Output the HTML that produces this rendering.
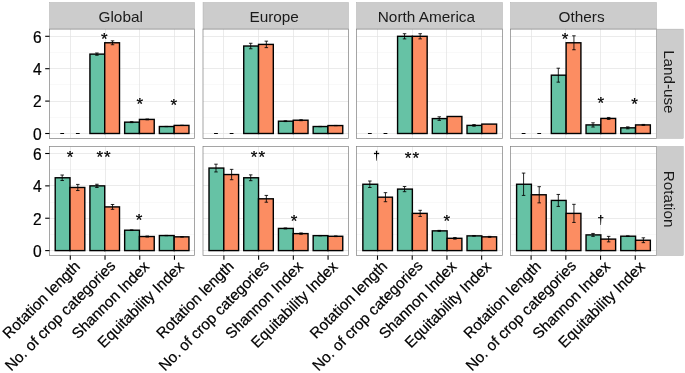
<!DOCTYPE html>
<html><head><meta charset="utf-8"><title>chart</title>
<style>html,body{margin:0;padding:0;background:#fff}svg{display:block;will-change:transform}text{font-family:"Liberation Sans",sans-serif}</style>
</head><body>
<svg width="685" height="373" viewBox="0 0 685 373" font-family="Liberation Sans, sans-serif">
<rect width="685" height="373" fill="#fff"/>
<rect x="49.5" y="2.5" width="145" height="26.7" fill="#cccccc" stroke="#a6a6a6" stroke-width="0.4"/>
<text x="120.7" y="21.6" font-size="15.35" text-anchor="middle" fill="#1a1a1a">Global</text>
<rect x="49.5" y="29.1" width="145" height="109.3" fill="#fff"/>
<line x1="49.5" x2="194.5" y1="117.5" y2="117.5" stroke="#f2f2f2" stroke-width="0.5"/>
<line x1="49.5" x2="194.5" y1="84.5" y2="84.5" stroke="#f2f2f2" stroke-width="0.5"/>
<line x1="49.5" x2="194.5" y1="52.5" y2="52.5" stroke="#f2f2f2" stroke-width="0.5"/>
<line x1="49.5" x2="194.5" y1="133.5" y2="133.5" stroke="#e3e3e3" stroke-width="0.7"/>
<line x1="49.5" x2="194.5" y1="101.5" y2="101.5" stroke="#e3e3e3" stroke-width="0.7"/>
<line x1="49.5" x2="194.5" y1="68.5" y2="68.5" stroke="#e3e3e3" stroke-width="0.7"/>
<line x1="49.5" x2="194.5" y1="36.5" y2="36.5" stroke="#e3e3e3" stroke-width="0.7"/>
<line x1="70.5" x2="70.5" y1="29.1" y2="138.4" stroke="#e3e3e3" stroke-width="0.7"/>
<line x1="105.5" x2="105.5" y1="29.1" y2="138.4" stroke="#e3e3e3" stroke-width="0.7"/>
<line x1="139.5" x2="139.5" y1="29.1" y2="138.4" stroke="#e3e3e3" stroke-width="0.7"/>
<line x1="174.5" x2="174.5" y1="29.1" y2="138.4" stroke="#e3e3e3" stroke-width="0.7"/>
<line x1="60.29" x2="64.09" y1="133.5" y2="133.5" stroke="#000" stroke-width="1"/>
<line x1="75.91" x2="79.71" y1="133.5" y2="133.5" stroke="#000" stroke-width="1"/>
<rect x="89.93" y="54.12" width="14.79" height="79.38" fill="#66C2A5" stroke="#000" stroke-width="1.4"/>
<rect x="104.72" y="42.78" width="14.79" height="90.72" fill="#FC8D62" stroke="#000" stroke-width="1.4"/>
<path d="M95.16 52.99H98.66M95.16 55.25H98.66M96.91 52.99V55.25" stroke="#000" stroke-width="0.85" fill="none"/>
<path d="M110.78 40.84H114.28M110.78 44.72H114.28M112.53 40.84V44.72" stroke="#000" stroke-width="0.85" fill="none"/>
<rect x="124.65" y="122.16" width="14.79" height="11.34" fill="#66C2A5" stroke="#000" stroke-width="1.4"/>
<rect x="139.44" y="119.41" width="14.79" height="14.09" fill="#FC8D62" stroke="#000" stroke-width="1.4"/>
<path d="M129.88 121.67H133.38M129.88 122.65H133.38M131.63 121.67V122.65" stroke="#000" stroke-width="0.85" fill="none"/>
<path d="M145.5 119H149M145.5 119.81H149M147.25 119V119.81" stroke="#000" stroke-width="0.85" fill="none"/>
<rect x="159.37" y="126.53" width="14.79" height="6.97" fill="#66C2A5" stroke="#000" stroke-width="1.4"/>
<rect x="174.16" y="125.4" width="14.79" height="8.1" fill="#FC8D62" stroke="#000" stroke-width="1.4"/>
<path d="M164.6 126.4H168.1M164.6 126.66H168.1M166.35 126.4V126.66" stroke="#000" stroke-width="0.85" fill="none"/>
<path d="M180.22 125.27H183.72M180.22 125.53H183.72M181.97 125.27V125.53" stroke="#000" stroke-width="0.85" fill="none"/>
<rect x="49.5" y="29.1" width="145" height="109.3" fill="none" stroke="#7f7f7f" stroke-width="0.7"/>
<rect x="49.5" y="146.5" width="145" height="109" fill="#fff"/>
<line x1="49.5" x2="194.5" y1="234.5" y2="234.5" stroke="#f2f2f2" stroke-width="0.5"/>
<line x1="49.5" x2="194.5" y1="202.5" y2="202.5" stroke="#f2f2f2" stroke-width="0.5"/>
<line x1="49.5" x2="194.5" y1="169.5" y2="169.5" stroke="#f2f2f2" stroke-width="0.5"/>
<line x1="49.5" x2="194.5" y1="250.5" y2="250.5" stroke="#e3e3e3" stroke-width="0.7"/>
<line x1="49.5" x2="194.5" y1="218.5" y2="218.5" stroke="#e3e3e3" stroke-width="0.7"/>
<line x1="49.5" x2="194.5" y1="185.5" y2="185.5" stroke="#e3e3e3" stroke-width="0.7"/>
<line x1="49.5" x2="194.5" y1="153.5" y2="153.5" stroke="#e3e3e3" stroke-width="0.7"/>
<line x1="70.5" x2="70.5" y1="146.5" y2="255.5" stroke="#e3e3e3" stroke-width="0.7"/>
<line x1="105.5" x2="105.5" y1="146.5" y2="255.5" stroke="#e3e3e3" stroke-width="0.7"/>
<line x1="139.5" x2="139.5" y1="146.5" y2="255.5" stroke="#e3e3e3" stroke-width="0.7"/>
<line x1="174.5" x2="174.5" y1="146.5" y2="255.5" stroke="#e3e3e3" stroke-width="0.7"/>
<rect x="55.21" y="177.77" width="14.79" height="72.83" fill="#66C2A5" stroke="#000" stroke-width="1.4"/>
<rect x="70" y="187.48" width="14.79" height="63.12" fill="#FC8D62" stroke="#000" stroke-width="1.4"/>
<path d="M60.44 175.02H63.94M60.44 180.53H63.94M62.19 175.02V180.53" stroke="#000" stroke-width="0.85" fill="none"/>
<path d="M76.06 184.41H79.56M76.06 190.56H79.56M77.81 184.41V190.56" stroke="#000" stroke-width="0.85" fill="none"/>
<rect x="89.93" y="185.87" width="14.79" height="64.73" fill="#66C2A5" stroke="#000" stroke-width="1.4"/>
<rect x="104.72" y="206.91" width="14.79" height="43.7" fill="#FC8D62" stroke="#000" stroke-width="1.4"/>
<path d="M95.16 184.25H98.66M95.16 187.48H98.66M96.91 184.25V187.48" stroke="#000" stroke-width="0.85" fill="none"/>
<path d="M110.78 204.48H114.28M110.78 209.33H114.28M112.53 204.48V209.33" stroke="#000" stroke-width="0.85" fill="none"/>
<rect x="124.65" y="230.21" width="14.79" height="20.39" fill="#66C2A5" stroke="#000" stroke-width="1.4"/>
<rect x="139.44" y="236.52" width="14.79" height="14.08" fill="#FC8D62" stroke="#000" stroke-width="1.4"/>
<path d="M129.88 229.89H133.38M129.88 230.53H133.38M131.63 229.89V230.53" stroke="#000" stroke-width="0.85" fill="none"/>
<path d="M145.5 236.03H149M145.5 237.01H149M147.25 236.03V237.01" stroke="#000" stroke-width="0.85" fill="none"/>
<rect x="159.37" y="235.55" width="14.79" height="15.05" fill="#66C2A5" stroke="#000" stroke-width="1.4"/>
<rect x="174.16" y="236.84" width="14.79" height="13.76" fill="#FC8D62" stroke="#000" stroke-width="1.4"/>
<path d="M164.6 235.39H168.1M164.6 235.71H168.1M166.35 235.39V235.71" stroke="#000" stroke-width="0.85" fill="none"/>
<path d="M180.22 236.6H183.72M180.22 237.09H183.72M181.97 236.6V237.09" stroke="#000" stroke-width="0.85" fill="none"/>
<rect x="49.5" y="146.5" width="145" height="109" fill="none" stroke="#7f7f7f" stroke-width="0.7"/>
<line x1="70.3" x2="70.3" y1="255.5" y2="259.8" stroke="#000" stroke-width="1.1"/>
<text transform="translate(81.08,267.22) rotate(-45)" font-size="15.2" text-anchor="end" fill="#000" stroke="#000" stroke-width="0.22">Rotation length</text>
<line x1="105.02" x2="105.02" y1="255.5" y2="259.8" stroke="#000" stroke-width="1.1"/>
<text transform="translate(116.37,266.65) rotate(-45)" font-size="15.2" text-anchor="end" fill="#000" stroke="#000" stroke-width="0.22">No. of crop categories</text>
<line x1="139.74" x2="139.74" y1="255.5" y2="259.8" stroke="#000" stroke-width="1.1"/>
<text transform="translate(150.24,267.5) rotate(-45)" font-size="15.2" text-anchor="end" fill="#000" stroke="#000" stroke-width="0.22">Shannon Index</text>
<line x1="174.46" x2="174.46" y1="255.5" y2="259.8" stroke="#000" stroke-width="1.1"/>
<text transform="translate(184.96,267.5) rotate(-45)" font-size="15.2" text-anchor="end" fill="#000" stroke="#000" stroke-width="0.22">Equitability Index</text>
<rect x="203" y="2.5" width="145.5" height="26.7" fill="#cccccc" stroke="#a6a6a6" stroke-width="0.4"/>
<text x="274.15" y="21.6" font-size="15.35" text-anchor="middle" fill="#1a1a1a">Europe</text>
<rect x="203" y="29.1" width="145.5" height="109.3" fill="#fff"/>
<line x1="203" x2="348.5" y1="117.5" y2="117.5" stroke="#f2f2f2" stroke-width="0.5"/>
<line x1="203" x2="348.5" y1="84.5" y2="84.5" stroke="#f2f2f2" stroke-width="0.5"/>
<line x1="203" x2="348.5" y1="52.5" y2="52.5" stroke="#f2f2f2" stroke-width="0.5"/>
<line x1="203" x2="348.5" y1="133.5" y2="133.5" stroke="#e3e3e3" stroke-width="0.7"/>
<line x1="203" x2="348.5" y1="101.5" y2="101.5" stroke="#e3e3e3" stroke-width="0.7"/>
<line x1="203" x2="348.5" y1="68.5" y2="68.5" stroke="#e3e3e3" stroke-width="0.7"/>
<line x1="203" x2="348.5" y1="36.5" y2="36.5" stroke="#e3e3e3" stroke-width="0.7"/>
<line x1="223.5" x2="223.5" y1="29.1" y2="138.4" stroke="#e3e3e3" stroke-width="0.7"/>
<line x1="258.5" x2="258.5" y1="29.1" y2="138.4" stroke="#e3e3e3" stroke-width="0.7"/>
<line x1="293.5" x2="293.5" y1="29.1" y2="138.4" stroke="#e3e3e3" stroke-width="0.7"/>
<line x1="328.5" x2="328.5" y1="29.1" y2="138.4" stroke="#e3e3e3" stroke-width="0.7"/>
<line x1="214.09" x2="217.89" y1="133.5" y2="133.5" stroke="#000" stroke-width="1"/>
<line x1="229.71" x2="233.51" y1="133.5" y2="133.5" stroke="#000" stroke-width="1"/>
<rect x="243.73" y="46.02" width="14.79" height="87.48" fill="#66C2A5" stroke="#000" stroke-width="1.4"/>
<rect x="258.52" y="44.4" width="14.79" height="89.1" fill="#FC8D62" stroke="#000" stroke-width="1.4"/>
<path d="M248.96 43.27H252.46M248.96 48.77H252.46M250.71 43.27V48.77" stroke="#000" stroke-width="0.85" fill="none"/>
<path d="M264.58 41.16H268.08M264.58 47.64H268.08M266.33 41.16V47.64" stroke="#000" stroke-width="0.85" fill="none"/>
<rect x="278.45" y="121.19" width="14.79" height="12.31" fill="#66C2A5" stroke="#000" stroke-width="1.4"/>
<rect x="293.24" y="120.22" width="14.79" height="13.28" fill="#FC8D62" stroke="#000" stroke-width="1.4"/>
<path d="M283.68 120.78H287.18M283.68 121.59H287.18M285.43 120.78V121.59" stroke="#000" stroke-width="0.85" fill="none"/>
<path d="M299.3 119.73H302.8M299.3 120.7H302.8M301.05 119.73V120.7" stroke="#000" stroke-width="0.85" fill="none"/>
<rect x="313.17" y="126.53" width="14.79" height="6.97" fill="#66C2A5" stroke="#000" stroke-width="1.4"/>
<rect x="327.96" y="125.56" width="14.79" height="7.94" fill="#FC8D62" stroke="#000" stroke-width="1.4"/>
<path d="M318.4 126.4H321.9M318.4 126.66H321.9M320.15 126.4V126.66" stroke="#000" stroke-width="0.85" fill="none"/>
<path d="M334.02 125.43H337.52M334.02 125.69H337.52M335.77 125.43V125.69" stroke="#000" stroke-width="0.85" fill="none"/>
<rect x="203" y="29.1" width="145.5" height="109.3" fill="none" stroke="#7f7f7f" stroke-width="0.7"/>
<rect x="203" y="146.5" width="145.5" height="109" fill="#fff"/>
<line x1="203" x2="348.5" y1="234.5" y2="234.5" stroke="#f2f2f2" stroke-width="0.5"/>
<line x1="203" x2="348.5" y1="202.5" y2="202.5" stroke="#f2f2f2" stroke-width="0.5"/>
<line x1="203" x2="348.5" y1="169.5" y2="169.5" stroke="#f2f2f2" stroke-width="0.5"/>
<line x1="203" x2="348.5" y1="250.5" y2="250.5" stroke="#e3e3e3" stroke-width="0.7"/>
<line x1="203" x2="348.5" y1="218.5" y2="218.5" stroke="#e3e3e3" stroke-width="0.7"/>
<line x1="203" x2="348.5" y1="185.5" y2="185.5" stroke="#e3e3e3" stroke-width="0.7"/>
<line x1="203" x2="348.5" y1="153.5" y2="153.5" stroke="#e3e3e3" stroke-width="0.7"/>
<line x1="223.5" x2="223.5" y1="146.5" y2="255.5" stroke="#e3e3e3" stroke-width="0.7"/>
<line x1="258.5" x2="258.5" y1="146.5" y2="255.5" stroke="#e3e3e3" stroke-width="0.7"/>
<line x1="293.5" x2="293.5" y1="146.5" y2="255.5" stroke="#e3e3e3" stroke-width="0.7"/>
<line x1="328.5" x2="328.5" y1="146.5" y2="255.5" stroke="#e3e3e3" stroke-width="0.7"/>
<rect x="209.01" y="168.06" width="14.79" height="82.53" fill="#66C2A5" stroke="#000" stroke-width="1.4"/>
<rect x="223.8" y="174.54" width="14.79" height="76.06" fill="#FC8D62" stroke="#000" stroke-width="1.4"/>
<path d="M214.24 164.18H217.74M214.24 171.95H217.74M215.99 164.18V171.95" stroke="#000" stroke-width="0.85" fill="none"/>
<path d="M229.86 169.36H233.36M229.86 179.72H233.36M231.61 169.36V179.72" stroke="#000" stroke-width="0.85" fill="none"/>
<rect x="243.73" y="177.77" width="14.79" height="72.83" fill="#66C2A5" stroke="#000" stroke-width="1.4"/>
<rect x="258.52" y="198.81" width="14.79" height="51.79" fill="#FC8D62" stroke="#000" stroke-width="1.4"/>
<path d="M248.96 174.86H252.46M248.96 180.69H252.46M250.71 174.86V180.69" stroke="#000" stroke-width="0.85" fill="none"/>
<path d="M264.58 195.41H268.08M264.58 202.21H268.08M266.33 195.41V202.21" stroke="#000" stroke-width="0.85" fill="none"/>
<rect x="278.45" y="228.43" width="14.79" height="22.17" fill="#66C2A5" stroke="#000" stroke-width="1.4"/>
<rect x="293.24" y="233.61" width="14.79" height="16.99" fill="#FC8D62" stroke="#000" stroke-width="1.4"/>
<path d="M283.68 227.94H287.18M283.68 228.91H287.18M285.43 227.94V228.91" stroke="#000" stroke-width="0.85" fill="none"/>
<path d="M299.3 232.96H302.8M299.3 234.25H302.8M301.05 232.96V234.25" stroke="#000" stroke-width="0.85" fill="none"/>
<rect x="313.17" y="235.63" width="14.79" height="14.97" fill="#66C2A5" stroke="#000" stroke-width="1.4"/>
<rect x="327.96" y="236.28" width="14.79" height="14.32" fill="#FC8D62" stroke="#000" stroke-width="1.4"/>
<path d="M318.4 235.47H321.9M318.4 235.79H321.9M320.15 235.47V235.79" stroke="#000" stroke-width="0.85" fill="none"/>
<path d="M334.02 235.95H337.52M334.02 236.6H337.52M335.77 235.95V236.6" stroke="#000" stroke-width="0.85" fill="none"/>
<rect x="203" y="146.5" width="145.5" height="109" fill="none" stroke="#7f7f7f" stroke-width="0.7"/>
<line x1="223.9" x2="223.9" y1="255.5" y2="259.8" stroke="#000" stroke-width="1.1"/>
<text transform="translate(234.68,267.22) rotate(-45)" font-size="15.2" text-anchor="end" fill="#000" stroke="#000" stroke-width="0.22">Rotation length</text>
<line x1="258.62" x2="258.62" y1="255.5" y2="259.8" stroke="#000" stroke-width="1.1"/>
<text transform="translate(269.97,266.65) rotate(-45)" font-size="15.2" text-anchor="end" fill="#000" stroke="#000" stroke-width="0.22">No. of crop categories</text>
<line x1="293.34" x2="293.34" y1="255.5" y2="259.8" stroke="#000" stroke-width="1.1"/>
<text transform="translate(303.84,267.5) rotate(-45)" font-size="15.2" text-anchor="end" fill="#000" stroke="#000" stroke-width="0.22">Shannon Index</text>
<line x1="328.06" x2="328.06" y1="255.5" y2="259.8" stroke="#000" stroke-width="1.1"/>
<text transform="translate(338.56,267.5) rotate(-45)" font-size="15.2" text-anchor="end" fill="#000" stroke="#000" stroke-width="0.22">Equitability Index</text>
<rect x="356.5" y="2.5" width="146" height="26.7" fill="#cccccc" stroke="#a6a6a6" stroke-width="0.4"/>
<text x="426.4" y="21.6" font-size="15.35" text-anchor="middle" fill="#1a1a1a">North America</text>
<rect x="356.5" y="29.1" width="146" height="109.3" fill="#fff"/>
<line x1="356.5" x2="502.5" y1="117.5" y2="117.5" stroke="#f2f2f2" stroke-width="0.5"/>
<line x1="356.5" x2="502.5" y1="84.5" y2="84.5" stroke="#f2f2f2" stroke-width="0.5"/>
<line x1="356.5" x2="502.5" y1="52.5" y2="52.5" stroke="#f2f2f2" stroke-width="0.5"/>
<line x1="356.5" x2="502.5" y1="133.5" y2="133.5" stroke="#e3e3e3" stroke-width="0.7"/>
<line x1="356.5" x2="502.5" y1="101.5" y2="101.5" stroke="#e3e3e3" stroke-width="0.7"/>
<line x1="356.5" x2="502.5" y1="68.5" y2="68.5" stroke="#e3e3e3" stroke-width="0.7"/>
<line x1="356.5" x2="502.5" y1="36.5" y2="36.5" stroke="#e3e3e3" stroke-width="0.7"/>
<line x1="377.5" x2="377.5" y1="29.1" y2="138.4" stroke="#e3e3e3" stroke-width="0.7"/>
<line x1="412.5" x2="412.5" y1="29.1" y2="138.4" stroke="#e3e3e3" stroke-width="0.7"/>
<line x1="446.5" x2="446.5" y1="29.1" y2="138.4" stroke="#e3e3e3" stroke-width="0.7"/>
<line x1="481.5" x2="481.5" y1="29.1" y2="138.4" stroke="#e3e3e3" stroke-width="0.7"/>
<line x1="367.94" x2="371.74" y1="133.5" y2="133.5" stroke="#000" stroke-width="1"/>
<line x1="383.56" x2="387.36" y1="133.5" y2="133.5" stroke="#000" stroke-width="1"/>
<rect x="397.58" y="36.3" width="14.79" height="97.2" fill="#66C2A5" stroke="#000" stroke-width="1.4"/>
<rect x="412.37" y="36.3" width="14.79" height="97.2" fill="#FC8D62" stroke="#000" stroke-width="1.4"/>
<path d="M402.81 33.71H406.31M402.81 38.89H406.31M404.56 33.71V38.89" stroke="#000" stroke-width="0.85" fill="none"/>
<path d="M418.43 33.71H421.93M418.43 38.89H421.93M420.18 33.71V38.89" stroke="#000" stroke-width="0.85" fill="none"/>
<rect x="432.3" y="118.6" width="14.79" height="14.9" fill="#66C2A5" stroke="#000" stroke-width="1.4"/>
<rect x="447.09" y="116.49" width="14.79" height="17.01" fill="#FC8D62" stroke="#000" stroke-width="1.4"/>
<path d="M437.53 116.81H441.03M437.53 120.38H441.03M439.28 116.81V120.38" stroke="#000" stroke-width="0.85" fill="none"/>
<rect x="467.02" y="125.4" width="14.79" height="8.1" fill="#66C2A5" stroke="#000" stroke-width="1.4"/>
<rect x="481.81" y="124.1" width="14.79" height="9.4" fill="#FC8D62" stroke="#000" stroke-width="1.4"/>
<path d="M472.25 124.59H475.75M472.25 126.21H475.75M474 124.59V126.21" stroke="#000" stroke-width="0.85" fill="none"/>
<rect x="356.5" y="29.1" width="146" height="109.3" fill="none" stroke="#7f7f7f" stroke-width="0.7"/>
<rect x="356.5" y="146.5" width="146" height="109" fill="#fff"/>
<line x1="356.5" x2="502.5" y1="234.5" y2="234.5" stroke="#f2f2f2" stroke-width="0.5"/>
<line x1="356.5" x2="502.5" y1="202.5" y2="202.5" stroke="#f2f2f2" stroke-width="0.5"/>
<line x1="356.5" x2="502.5" y1="169.5" y2="169.5" stroke="#f2f2f2" stroke-width="0.5"/>
<line x1="356.5" x2="502.5" y1="250.5" y2="250.5" stroke="#e3e3e3" stroke-width="0.7"/>
<line x1="356.5" x2="502.5" y1="218.5" y2="218.5" stroke="#e3e3e3" stroke-width="0.7"/>
<line x1="356.5" x2="502.5" y1="185.5" y2="185.5" stroke="#e3e3e3" stroke-width="0.7"/>
<line x1="356.5" x2="502.5" y1="153.5" y2="153.5" stroke="#e3e3e3" stroke-width="0.7"/>
<line x1="377.5" x2="377.5" y1="146.5" y2="255.5" stroke="#e3e3e3" stroke-width="0.7"/>
<line x1="412.5" x2="412.5" y1="146.5" y2="255.5" stroke="#e3e3e3" stroke-width="0.7"/>
<line x1="446.5" x2="446.5" y1="146.5" y2="255.5" stroke="#e3e3e3" stroke-width="0.7"/>
<line x1="481.5" x2="481.5" y1="146.5" y2="255.5" stroke="#e3e3e3" stroke-width="0.7"/>
<rect x="362.86" y="184.25" width="14.79" height="66.35" fill="#66C2A5" stroke="#000" stroke-width="1.4"/>
<rect x="377.65" y="197.19" width="14.79" height="53.41" fill="#FC8D62" stroke="#000" stroke-width="1.4"/>
<path d="M368.09 181.01H371.59M368.09 187.49H371.59M369.84 181.01V187.49" stroke="#000" stroke-width="0.85" fill="none"/>
<path d="M383.71 192.66H387.21M383.71 201.73H387.21M385.46 192.66V201.73" stroke="#000" stroke-width="0.85" fill="none"/>
<rect x="397.58" y="189.1" width="14.79" height="61.5" fill="#66C2A5" stroke="#000" stroke-width="1.4"/>
<rect x="412.37" y="213.38" width="14.79" height="37.22" fill="#FC8D62" stroke="#000" stroke-width="1.4"/>
<path d="M402.81 186.51H406.31M402.81 191.69H406.31M404.56 186.51V191.69" stroke="#000" stroke-width="0.85" fill="none"/>
<path d="M418.43 210.3H421.93M418.43 216.45H421.93M420.18 210.3V216.45" stroke="#000" stroke-width="0.85" fill="none"/>
<rect x="432.3" y="230.86" width="14.79" height="19.74" fill="#66C2A5" stroke="#000" stroke-width="1.4"/>
<rect x="447.09" y="238.3" width="14.79" height="12.3" fill="#FC8D62" stroke="#000" stroke-width="1.4"/>
<path d="M437.53 230.37H441.03M437.53 231.34H441.03M439.28 230.37V231.34" stroke="#000" stroke-width="0.85" fill="none"/>
<path d="M453.15 237.49H456.65M453.15 239.11H456.65M454.9 237.49V239.11" stroke="#000" stroke-width="0.85" fill="none"/>
<rect x="467.02" y="235.87" width="14.79" height="14.73" fill="#66C2A5" stroke="#000" stroke-width="1.4"/>
<rect x="481.81" y="236.84" width="14.79" height="13.76" fill="#FC8D62" stroke="#000" stroke-width="1.4"/>
<path d="M472.25 235.63H475.75M472.25 236.12H475.75M474 235.63V236.12" stroke="#000" stroke-width="0.85" fill="none"/>
<path d="M487.87 236.36H491.37M487.87 237.33H491.37M489.62 236.36V237.33" stroke="#000" stroke-width="0.85" fill="none"/>
<rect x="356.5" y="146.5" width="146" height="109" fill="none" stroke="#7f7f7f" stroke-width="0.7"/>
<line x1="377.5" x2="377.5" y1="255.5" y2="259.8" stroke="#000" stroke-width="1.1"/>
<text transform="translate(388.28,267.22) rotate(-45)" font-size="15.2" text-anchor="end" fill="#000" stroke="#000" stroke-width="0.22">Rotation length</text>
<line x1="412.22" x2="412.22" y1="255.5" y2="259.8" stroke="#000" stroke-width="1.1"/>
<text transform="translate(423.57,266.65) rotate(-45)" font-size="15.2" text-anchor="end" fill="#000" stroke="#000" stroke-width="0.22">No. of crop categories</text>
<line x1="446.94" x2="446.94" y1="255.5" y2="259.8" stroke="#000" stroke-width="1.1"/>
<text transform="translate(457.44,267.5) rotate(-45)" font-size="15.2" text-anchor="end" fill="#000" stroke="#000" stroke-width="0.22">Shannon Index</text>
<line x1="481.66" x2="481.66" y1="255.5" y2="259.8" stroke="#000" stroke-width="1.1"/>
<text transform="translate(492.16,267.5) rotate(-45)" font-size="15.2" text-anchor="end" fill="#000" stroke="#000" stroke-width="0.22">Equitability Index</text>
<rect x="510.5" y="2.5" width="146" height="26.7" fill="#cccccc" stroke="#a6a6a6" stroke-width="0.4"/>
<text x="581.6" y="21.6" font-size="15.35" text-anchor="middle" fill="#1a1a1a">Others</text>
<rect x="510.5" y="29.1" width="146" height="109.3" fill="#fff"/>
<line x1="510.5" x2="656.5" y1="117.5" y2="117.5" stroke="#f2f2f2" stroke-width="0.5"/>
<line x1="510.5" x2="656.5" y1="84.5" y2="84.5" stroke="#f2f2f2" stroke-width="0.5"/>
<line x1="510.5" x2="656.5" y1="52.5" y2="52.5" stroke="#f2f2f2" stroke-width="0.5"/>
<line x1="510.5" x2="656.5" y1="133.5" y2="133.5" stroke="#e3e3e3" stroke-width="0.7"/>
<line x1="510.5" x2="656.5" y1="101.5" y2="101.5" stroke="#e3e3e3" stroke-width="0.7"/>
<line x1="510.5" x2="656.5" y1="68.5" y2="68.5" stroke="#e3e3e3" stroke-width="0.7"/>
<line x1="510.5" x2="656.5" y1="36.5" y2="36.5" stroke="#e3e3e3" stroke-width="0.7"/>
<line x1="531.5" x2="531.5" y1="29.1" y2="138.4" stroke="#e3e3e3" stroke-width="0.7"/>
<line x1="565.5" x2="565.5" y1="29.1" y2="138.4" stroke="#e3e3e3" stroke-width="0.7"/>
<line x1="600.5" x2="600.5" y1="29.1" y2="138.4" stroke="#e3e3e3" stroke-width="0.7"/>
<line x1="635.5" x2="635.5" y1="29.1" y2="138.4" stroke="#e3e3e3" stroke-width="0.7"/>
<line x1="521.69" x2="525.49" y1="133.5" y2="133.5" stroke="#000" stroke-width="1"/>
<line x1="537.31" x2="541.11" y1="133.5" y2="133.5" stroke="#000" stroke-width="1"/>
<rect x="551.33" y="75.18" width="14.79" height="58.32" fill="#66C2A5" stroke="#000" stroke-width="1.4"/>
<rect x="566.12" y="42.78" width="14.79" height="90.72" fill="#FC8D62" stroke="#000" stroke-width="1.4"/>
<path d="M556.56 68.21H560.06M556.56 82.15H560.06M558.31 68.21V82.15" stroke="#000" stroke-width="0.85" fill="none"/>
<path d="M572.18 35.81H575.68M572.18 49.75H575.68M573.93 35.81V49.75" stroke="#000" stroke-width="0.85" fill="none"/>
<rect x="586.05" y="124.91" width="14.79" height="8.59" fill="#66C2A5" stroke="#000" stroke-width="1.4"/>
<rect x="600.84" y="118.43" width="14.79" height="15.07" fill="#FC8D62" stroke="#000" stroke-width="1.4"/>
<path d="M591.28 122.81H594.78M591.28 127.02H594.78M593.03 122.81V127.02" stroke="#000" stroke-width="0.85" fill="none"/>
<path d="M606.9 117.46H610.4M606.9 119.41H610.4M608.65 117.46V119.41" stroke="#000" stroke-width="0.85" fill="none"/>
<rect x="620.77" y="127.83" width="14.79" height="5.67" fill="#66C2A5" stroke="#000" stroke-width="1.4"/>
<rect x="635.56" y="124.91" width="14.79" height="8.59" fill="#FC8D62" stroke="#000" stroke-width="1.4"/>
<path d="M626 126.86H629.5M626 128.8H629.5M627.75 126.86V128.8" stroke="#000" stroke-width="0.85" fill="none"/>
<path d="M641.62 124.43H645.12M641.62 125.4H645.12M643.37 124.43V125.4" stroke="#000" stroke-width="0.85" fill="none"/>
<rect x="510.5" y="29.1" width="146" height="109.3" fill="none" stroke="#7f7f7f" stroke-width="0.7"/>
<rect x="510.5" y="146.5" width="146" height="109" fill="#fff"/>
<line x1="510.5" x2="656.5" y1="234.5" y2="234.5" stroke="#f2f2f2" stroke-width="0.5"/>
<line x1="510.5" x2="656.5" y1="202.5" y2="202.5" stroke="#f2f2f2" stroke-width="0.5"/>
<line x1="510.5" x2="656.5" y1="169.5" y2="169.5" stroke="#f2f2f2" stroke-width="0.5"/>
<line x1="510.5" x2="656.5" y1="250.5" y2="250.5" stroke="#e3e3e3" stroke-width="0.7"/>
<line x1="510.5" x2="656.5" y1="218.5" y2="218.5" stroke="#e3e3e3" stroke-width="0.7"/>
<line x1="510.5" x2="656.5" y1="185.5" y2="185.5" stroke="#e3e3e3" stroke-width="0.7"/>
<line x1="510.5" x2="656.5" y1="153.5" y2="153.5" stroke="#e3e3e3" stroke-width="0.7"/>
<line x1="531.5" x2="531.5" y1="146.5" y2="255.5" stroke="#e3e3e3" stroke-width="0.7"/>
<line x1="565.5" x2="565.5" y1="146.5" y2="255.5" stroke="#e3e3e3" stroke-width="0.7"/>
<line x1="600.5" x2="600.5" y1="146.5" y2="255.5" stroke="#e3e3e3" stroke-width="0.7"/>
<line x1="635.5" x2="635.5" y1="146.5" y2="255.5" stroke="#e3e3e3" stroke-width="0.7"/>
<rect x="516.61" y="184.25" width="14.79" height="66.35" fill="#66C2A5" stroke="#000" stroke-width="1.4"/>
<rect x="531.4" y="194.77" width="14.79" height="55.83" fill="#FC8D62" stroke="#000" stroke-width="1.4"/>
<path d="M521.84 173.08H525.34M521.84 195.41H525.34M523.59 173.08V195.41" stroke="#000" stroke-width="0.85" fill="none"/>
<path d="M537.46 186.68H540.96M537.46 202.86H540.96M539.21 186.68V202.86" stroke="#000" stroke-width="0.85" fill="none"/>
<rect x="551.33" y="200.43" width="14.79" height="50.17" fill="#66C2A5" stroke="#000" stroke-width="1.4"/>
<rect x="566.12" y="213.38" width="14.79" height="37.22" fill="#FC8D62" stroke="#000" stroke-width="1.4"/>
<path d="M556.56 194.44H560.06M556.56 206.42H560.06M558.31 194.44V206.42" stroke="#000" stroke-width="0.85" fill="none"/>
<path d="M572.18 204.32H575.68M572.18 222.44H575.68M573.93 204.32V222.44" stroke="#000" stroke-width="0.85" fill="none"/>
<rect x="586.05" y="234.9" width="14.79" height="15.7" fill="#66C2A5" stroke="#000" stroke-width="1.4"/>
<rect x="600.84" y="239.11" width="14.79" height="11.49" fill="#FC8D62" stroke="#000" stroke-width="1.4"/>
<path d="M591.28 233.45H594.78M591.28 236.36H594.78M593.03 233.45V236.36" stroke="#000" stroke-width="0.85" fill="none"/>
<path d="M606.9 236.36H610.4M606.9 241.86H610.4M608.65 236.36V241.86" stroke="#000" stroke-width="0.85" fill="none"/>
<rect x="620.77" y="236.2" width="14.79" height="14.4" fill="#66C2A5" stroke="#000" stroke-width="1.4"/>
<rect x="635.56" y="240.24" width="14.79" height="10.36" fill="#FC8D62" stroke="#000" stroke-width="1.4"/>
<path d="M626 235.87H629.5M626 236.52H629.5M627.75 235.87V236.52" stroke="#000" stroke-width="0.85" fill="none"/>
<path d="M641.62 237.82H645.12M641.62 242.67H645.12M643.37 237.82V242.67" stroke="#000" stroke-width="0.85" fill="none"/>
<rect x="510.5" y="146.5" width="146" height="109" fill="none" stroke="#7f7f7f" stroke-width="0.7"/>
<line x1="531.1" x2="531.1" y1="255.5" y2="259.8" stroke="#000" stroke-width="1.1"/>
<text transform="translate(541.88,267.22) rotate(-45)" font-size="15.2" text-anchor="end" fill="#000" stroke="#000" stroke-width="0.22">Rotation length</text>
<line x1="565.82" x2="565.82" y1="255.5" y2="259.8" stroke="#000" stroke-width="1.1"/>
<text transform="translate(577.17,266.65) rotate(-45)" font-size="15.2" text-anchor="end" fill="#000" stroke="#000" stroke-width="0.22">No. of crop categories</text>
<line x1="600.54" x2="600.54" y1="255.5" y2="259.8" stroke="#000" stroke-width="1.1"/>
<text transform="translate(611.04,267.5) rotate(-45)" font-size="15.2" text-anchor="end" fill="#000" stroke="#000" stroke-width="0.22">Shannon Index</text>
<line x1="635.26" x2="635.26" y1="255.5" y2="259.8" stroke="#000" stroke-width="1.1"/>
<text transform="translate(645.76,267.5) rotate(-45)" font-size="15.2" text-anchor="end" fill="#000" stroke="#000" stroke-width="0.22">Equitability Index</text>
<text x="104.37" y="45.25" font-size="17.0" text-anchor="middle" fill="#000" stroke="#000" stroke-width="0.25">*</text>
<text x="139.9" y="109.85" font-size="17.0" text-anchor="middle" fill="#000" stroke="#000" stroke-width="0.25">*</text>
<text x="173.8" y="110.5" font-size="17.0" text-anchor="middle" fill="#000" stroke="#000" stroke-width="0.25">*</text>
<text x="565.17" y="45.25" font-size="17.0" text-anchor="middle" fill="#000" stroke="#000" stroke-width="0.25">*</text>
<text x="600.9" y="108.65" font-size="17.0" text-anchor="middle" fill="#000" stroke="#000" stroke-width="0.25">*</text>
<text x="634.61" y="109.55" font-size="17.0" text-anchor="middle" fill="#000" stroke="#000" stroke-width="0.25">*</text>
<text x="69.95" y="162.55" font-size="17.0" text-anchor="middle" fill="#000" stroke="#000" stroke-width="0.25">*</text>
<text x="99.69" y="162.95" font-size="17.0" text-anchor="middle" fill="#000" stroke="#000" stroke-width="0.25">*</text>
<text x="107.39" y="162.95" font-size="17.0" text-anchor="middle" fill="#000" stroke="#000" stroke-width="0.25">*</text>
<text x="139.09" y="225.65" font-size="17.0" text-anchor="middle" fill="#000" stroke="#000" stroke-width="0.25">*</text>
<text x="254.05" y="162.95" font-size="17.0" text-anchor="middle" fill="#000" stroke="#000" stroke-width="0.25">*</text>
<text x="261.75" y="162.95" font-size="17.0" text-anchor="middle" fill="#000" stroke="#000" stroke-width="0.25">*</text>
<text x="294" y="227" font-size="17.0" text-anchor="middle" fill="#000" stroke="#000" stroke-width="0.25">*</text>
<path transform="translate(376.55,150.7)" d="M-0.7 0H0.7L0.6 2.3L2.6 2.15V3.45L0.6 3.3L0.25 10H-0.25L-0.6 3.3L-2.6 3.45V2.15L-0.6 2.3Z" fill="#000"/>
<text x="408.01" y="163.75" font-size="17.0" text-anchor="middle" fill="#000" stroke="#000" stroke-width="0.25">*</text>
<text x="415.71" y="163.75" font-size="17.0" text-anchor="middle" fill="#000" stroke="#000" stroke-width="0.25">*</text>
<text x="446.85" y="226.5" font-size="17.0" text-anchor="middle" fill="#000" stroke="#000" stroke-width="0.25">*</text>
<path transform="translate(600.74,214.9)" d="M-0.7 0H0.7L0.6 2.3L2.6 2.15V3.45L0.6 3.3L0.25 10H-0.25L-0.6 3.3L-2.6 3.45V2.15L-0.6 2.3Z" fill="#000"/>
<line x1="45.2" x2="49.5" y1="133.5" y2="133.5" stroke="#000" stroke-width="1.1"/>
<text x="41.7" y="139.8" font-size="15.6" text-anchor="end" fill="#000" stroke="#000" stroke-width="0.22">0</text>
<line x1="45.2" x2="49.5" y1="101.1" y2="101.1" stroke="#000" stroke-width="1.1"/>
<text x="41.7" y="107.4" font-size="15.6" text-anchor="end" fill="#000" stroke="#000" stroke-width="0.22">2</text>
<line x1="45.2" x2="49.5" y1="68.7" y2="68.7" stroke="#000" stroke-width="1.1"/>
<text x="41.7" y="75" font-size="15.6" text-anchor="end" fill="#000" stroke="#000" stroke-width="0.22">4</text>
<line x1="45.2" x2="49.5" y1="36.3" y2="36.3" stroke="#000" stroke-width="1.1"/>
<text x="41.7" y="42.6" font-size="15.6" text-anchor="end" fill="#000" stroke="#000" stroke-width="0.22">6</text>
<rect x="656.5" y="29.1" width="26.7" height="109.3" fill="#cccccc" stroke="#a6a6a6" stroke-width="0.4"/>
<text transform="translate(664.1,81.85) rotate(90)" font-size="15.2" text-anchor="middle" fill="#1a1a1a">Land-use</text>
<line x1="45.2" x2="49.5" y1="250.6" y2="250.6" stroke="#000" stroke-width="1.1"/>
<text x="41.7" y="256.9" font-size="15.6" text-anchor="end" fill="#000" stroke="#000" stroke-width="0.22">0</text>
<line x1="45.2" x2="49.5" y1="218.23" y2="218.23" stroke="#000" stroke-width="1.1"/>
<text x="41.7" y="224.53" font-size="15.6" text-anchor="end" fill="#000" stroke="#000" stroke-width="0.22">2</text>
<line x1="45.2" x2="49.5" y1="185.87" y2="185.87" stroke="#000" stroke-width="1.1"/>
<text x="41.7" y="192.17" font-size="15.6" text-anchor="end" fill="#000" stroke="#000" stroke-width="0.22">4</text>
<line x1="45.2" x2="49.5" y1="153.5" y2="153.5" stroke="#000" stroke-width="1.1"/>
<text x="41.7" y="159.8" font-size="15.6" text-anchor="end" fill="#000" stroke="#000" stroke-width="0.22">6</text>
<rect x="656.5" y="146.5" width="26.7" height="109" fill="#cccccc" stroke="#a6a6a6" stroke-width="0.4"/>
<text transform="translate(664.1,199.1) rotate(90)" font-size="15.2" text-anchor="middle" fill="#1a1a1a">Rotation</text>
</svg>
</body></html>
